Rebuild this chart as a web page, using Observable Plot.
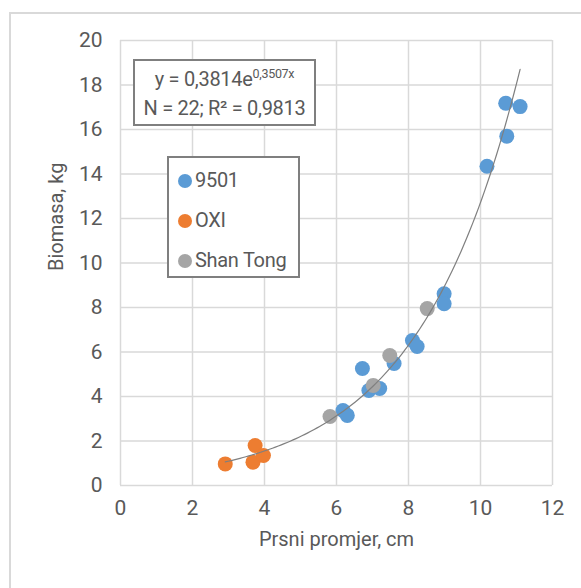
<!DOCTYPE html>
<html>
<head>
<meta charset="utf-8">
<script src="https://cdn.jsdelivr.net/npm/d3@7"></script>
<script src="https://cdn.jsdelivr.net/npm/@observablehq/plot@0.6"></script>
<style>
  html, body { margin: 0; padding: 0; background: #fff; }
  #wrap { position: relative; width: 581px; height: 588px; overflow: hidden;
    font-family: "Liberation Sans Narrow", "Arial Narrow", Roboto, sans-serif; color: #595959; }
  #outer { position: absolute; left: 9px; top: 12px; width: 700px; height: 700px; border: 2px solid #d9d9d9; box-sizing: border-box; }
  #chart { position: absolute; left: 0; top: 0; }
  .box { position: absolute; background: #fff; border: 2px solid #7f7f7f; box-sizing: border-box; }
  #eq { left: 133px; top: 59px; width: 183px; height: 67px; text-align: center; font-size: 20px; line-height: 27px; padding-top: 5px; white-space: nowrap; letter-spacing: -0.3px; }
  #eq sup { font-size: 12.5px; vertical-align: 0; position: relative; top: -8px; }
  #legend { left: 167px; top: 156px; width: 133px; height: 122px; font-size: 20px; letter-spacing: -0.3px; }
  .item { position: absolute; left: 9px; height: 24px; line-height: 24px; white-space: nowrap; }
  .sw { display: inline-block; width: 14px; height: 14px; border-radius: 50%; margin-right: 3px; vertical-align: -1px; }
</style>
</head>
<body>
<div id="wrap">
  <div id="outer"></div>
  <div id="chart"></div>
  <div id="eq" class="box"></div>
  <div id="legend" class="box"></div>
</div>
<script>
// ---- data ----
const seriesNames = ["9501", "OXI", "Shan Tong"];
const seriesColors = ["#5b9bd5", "#ed7d31", "#a5a5a5"];

const x9501 = [6.18, 6.3, 6.72, 6.9, 7.2, 7.6, 8.11, 8.24, 8.99, 8.99, 10.18, 10.73, 10.7, 11.1];
const y9501 = [3.37, 3.15, 5.26, 4.27, 4.36, 5.48, 6.52, 6.25, 8.62, 8.17, 14.35, 15.7, 17.18, 17.03];

const xOXI = [2.91, 3.74, 3.68, 3.97];
const yOXI = [0.97, 1.8, 1.05, 1.35];

const xShan = [5.82, 7.02, 7.48, 8.52];
const yShan = [3.1, 4.5, 5.84, 7.95];

const xTicks = [0, 2, 4, 6, 8, 10, 12];
const yTicks = [0, 2, 4, 6, 8, 10, 12, 14, 16, 18, 20];

// trendline y = a * e^(b x), shown in the chart
const trendA = 0.3814;
const trendB = 0.3507;
const trendXRange = [2.91, 11.1];

const xLabel = "Prsni promjer, cm";
const yLabel = "Biomasa, kg";
const eqLine1 = "y = 0,3814e";
const eqSup = "0,3507x";
const eqLine2 = "N = 22; R² = 0,9813";

// ---- build ----
const points = [
  ...x9501.map((x, i) => ({x, y: y9501[i], s: seriesNames[0]})),
  ...xOXI.map((x, i) => ({x, y: yOXI[i], s: seriesNames[1]})),
  ...xShan.map((x, i) => ({x, y: yShan[i], s: seriesNames[2]}))
];
const trend = d3.range(0, 101).map(i => {
  const x = trendXRange[0] + (trendXRange[1] - trendXRange[0]) * i / 100;
  return {x, y: trendA * Math.exp(trendB * x)};
});

const fontFam = '"Liberation Sans Narrow", "Arial Narrow", Roboto, sans-serif';

const chart = Plot.plot({
  width: 581,
  height: 588,
  marginLeft: 120,
  marginRight: 29,
  marginTop: 40,
  marginBottom: 103,
  style: {fontFamily: fontFam, fontSize: "21px", color: "#595959", background: "transparent"},
  x: {domain: [0, 12]},
  y: {domain: [0, 20]},
  color: {domain: seriesNames, range: seriesColors},
  marks: [
    Plot.gridX(xTicks, {stroke: "#d9d9d9", strokeOpacity: 1, strokeWidth: 1.5}),
    Plot.gridY(yTicks, {stroke: "#d9d9d9", strokeOpacity: 1, strokeWidth: 1.5}),
    Plot.axisX(xTicks, {tickSize: 0, tickPadding: 15, label: null, fill: "#595959", fontSize: 21}),
    Plot.axisY(yTicks, {tickSize: 0, tickPadding: 18, label: null, fill: "#595959", fontSize: 21}),
    Plot.dot(points, {x: "x", y: "y", fill: "s", r: 7.5, stroke: null}),
    Plot.line(trend, {x: "x", y: "y", stroke: "#7f7f7f", strokeWidth: 1.2}),
    Plot.text([xLabel], {text: d => d, frameAnchor: "bottom", dy: 60, fill: "#595959", fontSize: 20}),
    Plot.text([yLabel], {text: d => d, frameAnchor: "left", rotate: -90, dx: -64, dy: 8, fill: "#595959", fontSize: 20})
  ]
});
document.getElementById("chart").appendChild(chart);

// equation box
const eq = document.getElementById("eq");
eq.innerHTML = "";
const l1 = document.createElement("div");
l1.appendChild(document.createTextNode(eqLine1));
const sup = document.createElement("sup");
sup.textContent = eqSup;
l1.appendChild(sup);
const l2 = document.createElement("div");
l2.textContent = eqLine2;
eq.appendChild(l1);
eq.appendChild(l2);

// legend
const lg = document.getElementById("legend");
seriesNames.forEach((name, i) => {
  const it = document.createElement("div");
  it.className = "item";
  it.style.top = (10 + i * 40) + "px";
  const sw = document.createElement("span");
  sw.className = "sw";
  sw.style.background = seriesColors[i];
  it.appendChild(sw);
  it.appendChild(document.createTextNode(name));
  lg.appendChild(it);
});
</script>
</body>
</html>
